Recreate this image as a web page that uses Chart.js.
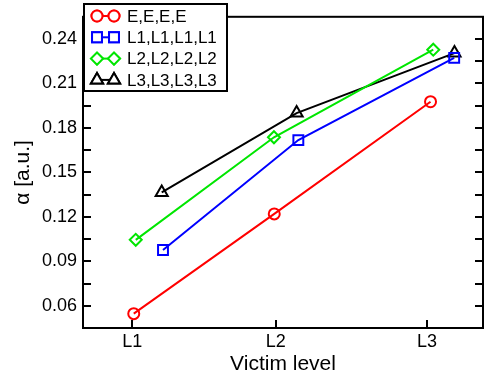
<!DOCTYPE html>
<html>
<head>
<meta charset="utf-8">
<script src="https://cdn.jsdelivr.net/npm/chart.js@4/dist/chart.umd.min.js"></script>
<style>
    html, body { margin: 0; padding: 0; background: #fff; }
    #wrap { width: 494px; height: 382px; }
</style>
</head>
<body>
<div id="wrap"><canvas id="chart" width="494" height="382"></canvas></div>
<script>
// Axis ticks
const xTickPos = [1, 2, 3.055];
const xTickLabels = ["L1", "L2", "L3"];
const yTicks = [0.06, 0.09, 0.12, 0.15, 0.18, 0.21, 0.24];

// Series (x position, alpha)
const seriesE = { x: [1.01, 1.99, 3.08], y: [0.0547, 0.122, 0.1977] };
const seriesL1 = { x: [1.214, 2.158, 3.245], y: [0.0976, 0.1718, 0.2273] };
const seriesL2 = { x: [1.024, 1.988, 3.099], y: [0.1045, 0.1737, 0.2328] };
const seriesL3 = { x: [1.205, 2.146, 3.247], y: [0.1365, 0.19, 0.2305] };

const seriesNames = ["E,E,E,E", "L1,L1,L1,L1", "L2,L2,L2,L2", "L3,L3,L3,L3"];

const FONT = "'Liberation Sans', Arial, sans-serif";

// Build a dataset from one series
function makeSet(name, s, color, style, radius) {
    return {
        label: name,
        data: s.x.map((x, i) => ({ x: x, y: s.y[i] })),
        borderColor: color,
        backgroundColor: "#fff",
        borderWidth: 2,
        pointStyle: style,
        pointRadius: radius,
        pointBorderWidth: 2,
        pointBackgroundColor: "rgba(0,0,0,0)",
        pointBorderColor: color,
        showLine: true,
        tension: 0,
    };
}

const datasets = [
    makeSet(seriesNames[0], seriesE, "#ff0000", "circle", 5.5),
    makeSet(seriesNames[1], seriesL1, "#0000ff", "rect", 7),
    makeSet(seriesNames[2], seriesL2, "#00e600", "rectRot", 6),
    makeSet(seriesNames[3], seriesL3, "#000000", "triangle", 7),
];

// Frame, inward ticks and the boxed legend
const framePlugin = {
    id: "frame",
    afterDatasetsDraw(chart) {
        const ctx = chart.ctx;
        const a = chart.chartArea;
        const xs = chart.scales.x;
        const ys = chart.scales.y;
        ctx.save();
        ctx.strokeStyle = "#000";
        ctx.lineWidth = 2;
        ctx.strokeRect(a.left, a.top, a.right - a.left, a.bottom - a.top);

        // Ticks on left and right, every half step
        const tl = 8;
        const yAll = [];
        for (let i = 0; i < yTicks.length; i++) {
            yAll.push(yTicks[i]);
            yAll.push(yTicks[i] - 0.015);
        }
        yAll.push(yTicks[yTicks.length - 1] + 0.015);
        ctx.beginPath();
        yAll.forEach(v => {
            const py = Math.round(ys.getPixelForValue(v));
            if (py <= a.top + 1 || py >= a.bottom - 1) return;
            ctx.moveTo(a.left, py);
            ctx.lineTo(a.left + tl, py);
            ctx.moveTo(a.right, py);
            ctx.lineTo(a.right - tl, py);
        });
        xTickPos.forEach(v => {
            const px = Math.round(xs.getPixelForValue(v));
            ctx.moveTo(px, a.bottom);
            ctx.lineTo(px, a.bottom - tl);
        });
        ctx.stroke();

        // Legend box
        const lx = 84, ly = 4, lw = 143, lh = 87;
        ctx.fillStyle = "#fff";
        ctx.fillRect(lx, ly, lw, lh);
        ctx.strokeRect(lx, ly, lw, lh);
        ctx.font = "17px " + FONT;
        ctx.textBaseline = "middle";
        ctx.textAlign = "left";
        chart.data.datasets.forEach((ds, i) => {
            const ry = 16 + i * 21.3;
            ctx.strokeStyle = ds.borderColor;
            ctx.lineWidth = 2;
            ctx.beginPath();
            ctx.moveTo(97, ry);
            ctx.lineTo(114, ry);
            ctx.stroke();
            [97, 114].forEach(px => {
                Chart.helpers.drawPoint(ctx, {
                    pointStyle: ds.pointStyle,
                    radius: ds.pointRadius,
                    borderWidth: 2,
                    rotation: 0,
                }, px, ry);
                ctx.fillStyle = "#fff";
                ctx.fill();
                ctx.stroke();
            });
            ctx.fillStyle = "#000";
            ctx.fillText(ds.label, 127, ry + 1);
        });
        ctx.restore();
    },
};

new Chart(document.getElementById("chart"), {
    type: "scatter",
    data: { datasets: datasets },
    options: {
        responsive: false,
        animation: false,
        layout: { padding: { top: 4, right: 11, left: 0, bottom: 0 } },
        plugins: {
            legend: { display: false },
            tooltip: { enabled: false },
        },
        scales: {
            x: {
                type: "linear",
                min: 0.656,
                max: 3.446,
                afterBuildTicks: scale => {
                    scale.ticks = xTickPos.map(v => ({ value: v }));
                },
                afterFit: scale => {
                    scale.height = 54;
                },
                grid: { display: false, drawTicks: false },
                border: { display: false },
                ticks: {
                    padding: 3,
                    color: "#000",
                    font: { family: FONT, size: 18 },
                    maxRotation: 0,
                    callback: (v, i) => xTickLabels[i],
                },
                title: {
                    display: true,
                    text: "Victim level",
                    color: "#000",
                    font: { family: FONT, size: 21 },
                    padding: { top: 0, bottom: 5 },
                },
            },
            y: {
                type: "linear",
                min: 0.045,
                max: 0.255,
                afterBuildTicks: scale => {
                    scale.ticks = yTicks.map(v => ({ value: v }));
                },
                afterFit: scale => {
                    scale.width = 83;
                },
                grid: { display: false, drawTicks: false },
                border: { display: false },
                ticks: {
                    padding: 6,
                    color: "#000",
                    font: { family: FONT, size: 18 },
                    callback: v => v.toFixed(2),
                },
                title: {
                    display: true,
                    text: "α [a.u.]",
                    color: "#000",
                    font: { family: FONT, size: 21 },
                    padding: { top: 11, bottom: 0 },
                },
            },
        },
    },
    plugins: [framePlugin],
});
</script>
</body>
</html>
